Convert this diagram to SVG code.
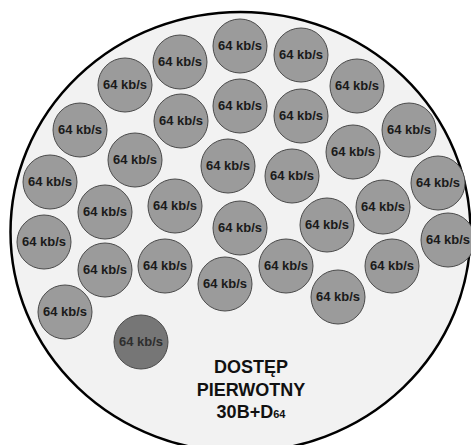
<svg xmlns="http://www.w3.org/2000/svg" width="471" height="445" viewBox="0 0 471 445">
<style>
.c{fill:#9b9b9b;stroke:#4a4a4a;stroke-width:1}
.d{fill:#767676;stroke:#4a4a4a;stroke-width:1}
.t{font-family:"Liberation Sans",Arial,sans-serif;font-weight:bold;font-size:12px;fill:#1a1a1a;text-anchor:middle}
.td{font-family:"Liberation Sans",Arial,sans-serif;font-weight:bold;font-size:12px;fill:#2e2e2e;text-anchor:middle}
.big{font-family:"Liberation Sans",Arial,sans-serif;font-weight:bold;font-size:18px;fill:#111;text-anchor:middle}
</style>
<defs>
<g id="ch"><circle class="c" r="27"/><text class="t" y="4" textLength="44" lengthAdjust="spacingAndGlyphs">64 kb/s</text></g>
</defs>
<rect width="471" height="445" fill="#fff"/>
<g id="outer"><ellipse cx="240.5" cy="232" rx="230" ry="220" fill="#f2f2f2" stroke="#000" stroke-width="2.5"/></g>
<g id="channels">
<g id="b1"><use href="#ch" x="180" y="62"/></g>
<g id="b2"><use href="#ch" x="125" y="85"/></g>
<g id="b3"><use href="#ch" x="80" y="130"/></g>
<g id="b4"><use href="#ch" x="181" y="121"/></g>
<g id="b5"><use href="#ch" x="135" y="160"/></g>
<g id="b6"><use href="#ch" x="50" y="182"/></g>
<g id="b7"><use href="#ch" x="105" y="212"/></g>
<g id="b8"><use href="#ch" x="175" y="206"/></g>
<g id="b9"><use href="#ch" x="240" y="46"/></g>
<g id="b10"><use href="#ch" x="301" y="55"/></g>
<g id="b11"><use href="#ch" x="357" y="86"/></g>
<g id="b12"><use href="#ch" x="240" y="106"/></g>
<g id="b13"><use href="#ch" x="301" y="116"/></g>
<g id="b14"><use href="#ch" x="409" y="130"/></g>
<g id="b15"><use href="#ch" x="353" y="152"/></g>
<g id="b16"><use href="#ch" x="228" y="166"/></g>
<g id="b17"><use href="#ch" x="292" y="176"/></g>
<g id="b18"><use href="#ch" x="438" y="183"/></g>
<g id="b19"><use href="#ch" x="383" y="207"/></g>
<g id="b20"><use href="#ch" x="327" y="225"/></g>
<g id="b21"><use href="#ch" x="448" y="240"/></g>
<g id="b22"><use href="#ch" x="240" y="228"/></g>
<g id="b23"><use href="#ch" x="44" y="242"/></g>
<g id="b24"><use href="#ch" x="105" y="270"/></g>
<g id="b25"><use href="#ch" x="165" y="266"/></g>
<g id="b26"><use href="#ch" x="65" y="312"/></g>
<g id="b27"><use href="#ch" x="225" y="284"/></g>
<g id="b28"><use href="#ch" x="286" y="266"/></g>
<g id="b29"><use href="#ch" x="338" y="297"/></g>
<g id="b30"><use href="#ch" x="392" y="266"/></g>
<g id="d"><circle class="d" cx="141" cy="342" r="27"/><text class="td" x="141" y="346" textLength="44" lengthAdjust="spacingAndGlyphs">64 kb/s</text></g>
</g>
<g id="label">
<text class="big" x="251" y="373">DOSTĘP</text>
<text class="big" x="251" y="396">PIERWOTNY</text>
<text class="big" x="251" y="418">30B+D<tspan font-size="11">64</tspan></text>
</g>
</svg>
